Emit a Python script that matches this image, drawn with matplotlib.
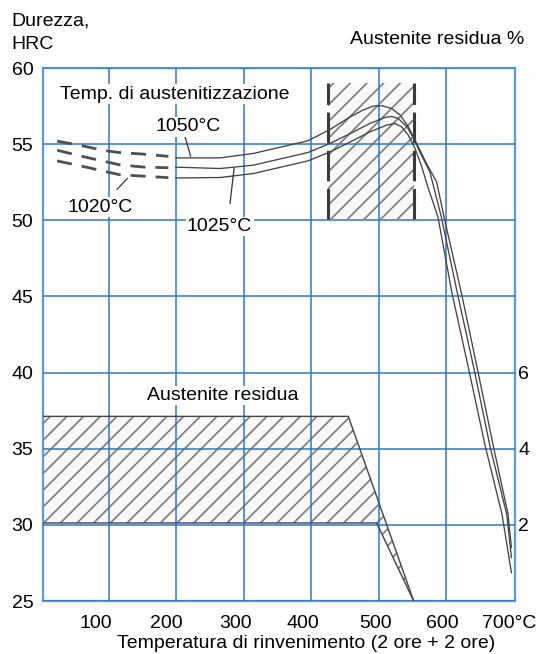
import matplotlib
matplotlib.use("Agg")
from matplotlib import pyplot as plt
from matplotlib.patches import Polygon

plt.rcParams['font.family'] = ['Liberation Sans', 'DejaVu Sans']
plt.rcParams['hatch.linewidth'] = 1.2

# durezza dopo rinvenimento per le tre temperature di austenitizzazione
temp_1050 = [199, 265, 314, 395, 428, 458, 477, 492, 505, 519, 532, 544, 554, 571, 586, 597, 623, 646, 670, 692, 697]
hrc_1050 = [54.10, 54.10, 54.39, 55.22, 55.97, 56.80, 57.24, 57.50, 57.52, 57.35, 56.91, 56.14, 55.26, 53.73, 52.52,
            50.22, 45.18, 40.35, 35.20, 30.70, 28.51]

temp_1025 = [199, 265, 314, 395, 428, 458, 487, 510, 519, 529, 542, 552, 561, 576, 593, 617, 641, 665, 690, 697]
hrc_1025 = [53.49, 53.40, 53.62, 54.45, 55.05, 55.70, 56.36, 56.76, 56.82, 56.69, 56.14, 55.38, 54.49, 53.18,
            50.22, 45.18, 40.35, 35.20, 30.70, 27.85]

temp_1020 = [199, 265, 314, 395, 428, 458, 487, 512, 524, 534, 544, 554, 564, 573, 588, 609, 633, 658, 683, 697]
hrc_1020 = [52.78, 52.81, 53.07, 53.90, 54.49, 55.15, 55.81, 56.25, 56.36, 56.14, 55.59, 54.72, 53.51, 52.19,
            50.22, 45.18, 40.35, 35.20, 30.70, 26.86]

# tratti incerti a bassa temperatura (tratteggiati)
temp_dash = [23, 60, 90, 115, 150, 188]
hrc_dash_1050 = [55.20, 54.90, 54.60, 54.45, 54.35, 54.20]
hrc_dash_1025 = [54.60, 54.20, 53.90, 53.65, 53.50, 53.45]
hrc_dash_1020 = [53.90, 53.55, 53.25, 53.00, 52.90, 52.80]

# campo di durezza secondaria (riquadro tratteggiato)
box_temp = [425, 552]
box_hrc = [50.1, 59.0]

# austenite residua in %
aust_upper_temp = [2, 455, 552]
aust_upper_pct = [4.85, 4.85, 0.0]
aust_lower_temp = [2, 497, 552]
aust_lower_pct = [2.05, 2.05, 0.0]

x_grid = [100, 200, 300, 400, 500, 600]
x_labels = ["100", "200", "300", "400", "500", "600", "700°C"]
y_ticks = [25, 30, 35, 40, 45, 50, 55, 60]
pct_ticks = [2, 4, 6]

grid_blue = "#2f76cf"
spine_blue = "#5b9be0"
ink = "#444444"


def pct_to_hrc(p):
    return 25 + p * 2.5


fig = plt.figure(figsize=(5.36, 6.54), dpi=100)
ax = fig.add_axes([0.0802, 0.0810, 0.8815, 0.8150])
ax.set_xlim(2, 703)
ax.set_ylim(25, 60)

ax.set_xticks(x_grid)
ax.set_yticks(y_ticks)
ax.tick_params(axis='both', length=0)
ax.tick_params(axis='x', labelbottom=False)
ax.tick_params(axis='y', labelsize=14, pad=7)
ax.set_axisbelow(False)
ax.grid(True, color=grid_blue, linewidth=1.1, zorder=2)
for sp in ax.spines.values():
    sp.set_color(spine_blue)
    sp.set_linewidth(1.6)

# riquadro tratteggiato
ax.fill_between(box_temp, box_hrc[0], box_hrc[1], facecolor="#f9f9f9", edgecolor="#7a7a7a",
                hatch="//", linewidth=0, zorder=1)
ax.vlines(box_temp, box_hrc[0], box_hrc[1], colors="#3a3a3a", linewidth=2.2,
          linestyles=(0, (10, 2.5)), zorder=3)

# zona austenite residua
up = [(t, pct_to_hrc(p)) for t, p in zip(aust_upper_temp, aust_upper_pct)]
lo = [(t, pct_to_hrc(p)) for t, p in zip(aust_lower_temp, aust_lower_pct)]
zone = Polygon(up + lo[::-1], closed=True, facecolor="#f9f9f9", edgecolor="#7a7a7a",
               hatch="//", linewidth=0, zorder=1)
ax.add_patch(zone)
ax.plot([u[0] for u in up], [u[1] for u in up], color=ink, lw=1.0, zorder=3)
ax.plot([l[0] for l in lo], [l[1] for l in lo], color=ink, lw=1.0, zorder=3)

# curve di durezza
for t, h in [(temp_1050, hrc_1050), (temp_1025, hrc_1025), (temp_1020, hrc_1020)]:
    ax.plot(t, h, color=ink, lw=0.95, zorder=3)
for h in [hrc_dash_1050, hrc_dash_1025, hrc_dash_1020]:
    ax.plot(temp_dash, h, color="#505050", lw=2.0, linestyle=(0, (5.4, 3.6)),
            solid_capstyle='butt', zorder=3)

# testi e richiami
box = dict(facecolor="white", edgecolor="none", pad=1.0)
ax.text(27, 58.29, "Temp. di austenitizzazione", fontsize=14, ha="left", va="center", bbox=box, zorder=4)
ax.text(218, 56.14, "1050°C", fontsize=14, ha="center", va="center", bbox=box, zorder=4)
ax.text(87, 50.86, "1020°C", fontsize=14, ha="center", va="center", bbox=box, zorder=4)
ax.text(264, 49.6, "1025°C", fontsize=14, ha="center", va="center", bbox=box, zorder=4)
ax.text(269, 38.49, "Austenite residua", fontsize=14, ha="center", va="center", bbox=box, zorder=4)

ax.plot([210, 221], [55.92, 54.21], color="#333333", lw=0.9, zorder=3)
ax.plot([112, 127], [52.04, 52.74], color="#333333", lw=0.9, zorder=3)
ax.plot([279.5, 285.5], [51.1, 53.42], color="#333333", lw=0.9, zorder=3)

# etichette asse x
label_x = [81, 185, 288, 388, 495, 595, 693]
for xv, lab in zip(label_x, x_labels):
    ax.text(xv, -0.042, lab, fontsize=14, ha="center", va="center",
            transform=ax.get_xaxis_transform(), clip_on=False)

# scala destra: austenite residua %
ax2 = ax.twinx()
ax2.set_ylim(0, 14)
ax2.set_yticks(pct_ticks)
ax2.tick_params(axis='y', length=0, labelsize=14, pad=2)
for sp in ax2.spines.values():
    sp.set_visible(False)

fig.text(11 / 536, 1 - 21 / 654, "Durezza,", fontsize=14, ha="left", va="center")
fig.text(11 / 536, 1 - 44.5 / 654, "HRC", fontsize=14, ha="left", va="center")
fig.text(524 / 536, 1 - 39.4 / 654, "Austenite residua %", fontsize=14, ha="right", va="center")
fig.text(306.5 / 536, 1 - 643 / 654, "Temperatura di rinvenimento (2 ore + 2 ore)", fontsize=14,
         ha="center", va="center")

plt.savefig("out.png", dpi=100)
